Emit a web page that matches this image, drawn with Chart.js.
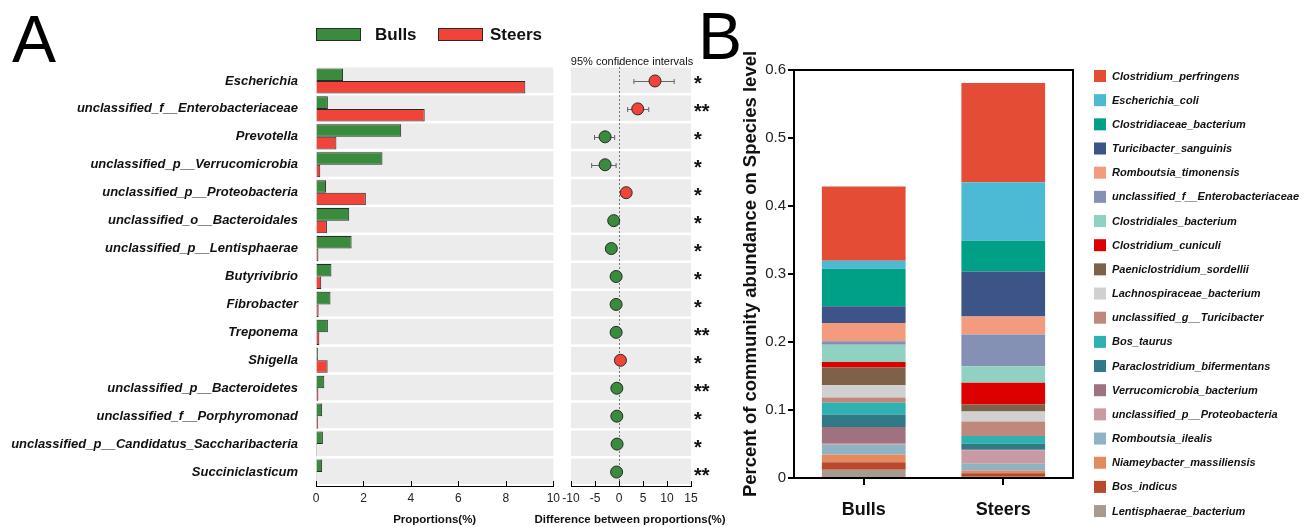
<!DOCTYPE html>
<html>
<head>
<meta charset="utf-8">
<script src="https://cdn.jsdelivr.net/npm/chart.js@4.4.0/dist/chart.umd.min.js"></script>
<style>
  html, body { margin: 0; padding: 0; background: #fff; width: 1306px; height: 527px; overflow: hidden; }
  canvas { position: absolute; top: 0; }
  #chartA { left: 0; }
  #chartD { left: 500px; }
  #chartB { left: 720px; }
  .letter { position: absolute; font-family: "Liberation Sans", Arial, sans-serif; font-size: 66px; line-height: 1; color: #000; }
</style>
</head>
<body>
<div class="letter" style="left:12px;top:6px">A</div>
<div class="letter" style="left:698px;top:3px">B</div>
<canvas id="chartA" width="565" height="527"></canvas>
<canvas id="chartD" width="230" height="527"></canvas>
<canvas id="chartB" width="586" height="527"></canvas>
<script>
const FONT = '"Liberation Sans", Arial, sans-serif';

/* ===== DATA: panel A ===== */
const genera = ['Escherichia', 'unclassified_f__Enterobacteriaceae', 'Prevotella', 'unclassified_p__Verrucomicrobia',
  'unclassified_p__Proteobacteria', 'unclassified_o__Bacteroidales', 'unclassified_p__Lentisphaerae', 'Butyrivibrio',
  'Fibrobacter', 'Treponema', 'Shigella', 'unclassified_p__Bacteroidetes', 'unclassified_f__Porphyromonad',
  'unclassified_p__Candidatus_Saccharibacteria', 'Succiniclasticum'];
const bullsProp  = [1.14, 0.50, 3.59, 2.80, 0.42, 1.40, 1.50, 0.65, 0.61, 0.50, 0.08, 0.35, 0.26, 0.29, 0.26];
const steersProp = [8.82, 4.58, 0.86, 0.18, 2.10, 0.46, 0.10, 0.22, 0.11, 0.14, 0.49, 0.10, 0.08, 0.04, 0.01];
const diffMean = [7.5, 3.9, -2.9, -2.9, 1.5, -1.1, -1.6, -0.6, -0.6, -0.6, 0.3, -0.45, -0.45, -0.4, -0.5];
const ciLow    = [3.1, 1.8, -5.1, -5.7, 1.0, -2.2, -2.7, -1.0, -1.0, -1.0, -0.1, -0.8, -0.8, -0.7, -0.8];
const ciHigh   = [11.5, 6.2, -0.9, -0.6, 2.0, -0.4, -0.6, -0.2, -0.2, -0.2, 0.7, -0.1, -0.1, -0.1, -0.2];
const signif   = ['*', '**', '*', '*', '*', '*', '*', '*', '*', '**', '*', '**', '*', '*', '**'];
const propTicks = [0, 2, 4, 6, 8, 10];
const diffTicks = [-10, -5, 0, 5, 10, 15];

/* ===== DATA: panel B ===== */
const groups = ['Bulls', 'Steers'];
const species = ['Clostridium_perfringens', 'Escherichia_coli', 'Clostridiaceae_bacterium', 'Turicibacter_sanguinis',
  'Romboutsia_timonensis', 'unclassified_f__Enterobacteriaceae', 'Clostridiales_bacterium', 'Clostridium_cuniculi',
  'Paeniclostridium_sordellii', 'Lachnospiraceae_bacterium', 'unclassified_g__Turicibacter', 'Bos_taurus',
  'Paraclostridium_bifermentans', 'Verrucomicrobia_bacterium', 'unclassified_p__Proteobacteria', 'Romboutsia_ilealis',
  'Niameybacter_massiliensis', 'Bos_indicus', 'Lentisphaerae_bacterium'];
const bullsAbund  = [0.109, 0.012, 0.055, 0.0245, 0.027, 0.005, 0.0256, 0.008, 0.026, 0.018, 0.008, 0.017, 0.0184, 0.0246, 0.0015, 0.0145, 0.0115, 0.011, 0.012];
const steersAbund = [0.1456, 0.0861, 0.0452, 0.0664, 0.0262, 0.0468, 0.0243, 0.0319, 0.0103, 0.0147, 0.0216, 0.0112, 0.009, 0.001, 0.0196, 0.010, 0.0038, 0.005, 0.002];
const speciesColors = ['#e54c36', '#4dbad5', '#00a087', '#3c5488', '#f39b7f', '#8491b4', '#91d1c2', '#dc0000',
  '#7e6148', '#d0d0d0', '#c0877c', '#2fb1b1', '#317987', '#a0727f', '#c99aa1', '#8fb3c3', '#e28a62', '#b9482c', '#a99a8e'];

const GREEN = '#3a8b3d';
const RED = '#f0443a';

/* ===== PLUGINS ===== */
const rowBands = {
  id: 'rowBands',
  beforeDatasetsDraw(chart) {
    const y = chart.scales.y, a = chart.chartArea, ctx = chart.ctx;
    const pitch = (a.bottom - a.top) / genera.length;
    ctx.save();
    ctx.fillStyle = '#ececec';
    genera.forEach((g, i) => {
      const c = y.getPixelForValue(i);
      ctx.fillRect(a.left, c - pitch / 2 + 0.5, a.right - a.left, pitch - 2.5);
    });
    ctx.restore();
  }
};

const innerTicks = {
  id: 'innerTicks',
  afterDraw(chart) {
    const xs = chart.scales.x, ctx = chart.ctx;
    ctx.save();
    ctx.strokeStyle = '#000';
    ctx.lineWidth = 1;
    xs.ticks.forEach((t, i) => {
      const x = Math.round(xs.getPixelForTick(i)) + 0.5;
      ctx.beginPath();
      ctx.moveTo(x, xs.top);
      ctx.lineTo(x, xs.top - 5);
      ctx.stroke();
    });
    ctx.restore();
  }
};

// legend boxes for Bulls / Steers (box left, text left)
const legendSlots = [[316, 375], [438, 490]];
const groupLegend = {
  id: 'groupLegend',
  afterDraw(chart) {
    const ctx = chart.ctx;
    ctx.save();
    ctx.font = 'bold 17px ' + FONT;
    ctx.textBaseline = 'middle';
    chart.data.datasets.forEach((ds, i) => {
      const [bx, tx] = legendSlots[i];
      ctx.fillStyle = ds.backgroundColor;
      ctx.strokeStyle = '#2a2a2a';
      ctx.lineWidth = 1;
      ctx.fillRect(bx, 28, 45, 13);
      ctx.strokeRect(bx + 0.5, 28.5, 44, 12);
      ctx.fillStyle = '#111';
      ctx.fillText(ds.label, tx, 35);
    });
    ctx.restore();
  }
};

const ciPlugin = {
  id: 'ciPlugin',
  beforeDatasetsDraw(chart) {
    const xs = chart.scales.x, ys = chart.scales.y, a = chart.chartArea, ctx = chart.ctx;
    ctx.save();
    // dotted zero line
    const x0 = Math.round(xs.getPixelForValue(0)) + 0.5;
    ctx.strokeStyle = '#777';
    ctx.lineWidth = 1;
    ctx.setLineDash([2, 2]);
    ctx.beginPath();
    ctx.moveTo(x0, a.top - 4);
    ctx.lineTo(x0, a.bottom);
    ctx.stroke();
    ctx.setLineDash([]);
    // confidence intervals
    ctx.strokeStyle = '#666';
    genera.forEach((g, i) => {
      const y = Math.round(ys.getPixelForValue(i)) + 0.5;
      const l = xs.getPixelForValue(ciLow[i]), r = xs.getPixelForValue(ciHigh[i]);
      ctx.beginPath();
      ctx.moveTo(l, y); ctx.lineTo(r, y);
      ctx.moveTo(l, y - 2.5); ctx.lineTo(l, y + 2.5);
      ctx.moveTo(r, y - 2.5); ctx.lineTo(r, y + 2.5);
      ctx.stroke();
    });
    ctx.restore();
  },
  afterDraw(chart) {
    const ys = chart.scales.y, a = chart.chartArea, ctx = chart.ctx;
    const cx = (a.left + a.right) / 2;
    ctx.save();
    ctx.fillStyle = '#111';
    ctx.textAlign = 'center';
    ctx.textBaseline = 'middle';
    ctx.font = '11px ' + FONT;
    ctx.fillText('95% confidence intervals', cx + 1, 62);
    ctx.font = 'bold 11.5px ' + FONT;
    ctx.fillText('Difference between proportions(%)', cx - 1, 520);
    ctx.font = 'bold 20px ' + FONT;
    ctx.textAlign = 'left';
    genera.forEach((g, i) => {
      ctx.fillText(signif[i], a.right + 3, ys.getPixelForValue(i) + 4);
    });
    ctx.restore();
  }
};

const frameBox = {
  id: 'frameBox',
  afterDraw(chart) {
    const a = chart.chartArea, ctx = chart.ctx;
    ctx.save();
    ctx.strokeStyle = '#000';
    ctx.lineWidth = 2;
    ctx.strokeRect(a.left, a.top, a.right - a.left, a.bottom - a.top);
    ctx.restore();
  }
};

const speciesLegend = {
  id: 'speciesLegend',
  afterDraw(chart) {
    const ctx = chart.ctx;
    const x0 = chart.chartArea.right + 21;
    ctx.save();
    ctx.font = 'italic bold 11px ' + FONT;
    ctx.textBaseline = 'middle';
    species.forEach((name, i) => {
      const y = 76 + i * 24.17;
      ctx.fillStyle = speciesColors[i];
      ctx.fillRect(x0, y - 6, 12, 12);
      ctx.fillStyle = '#111';
      ctx.fillText(name, x0 + 18, y + 0.5);
    });
    ctx.restore();
  }
};

/* ===== PANEL A: proportions ===== */
new Chart(document.getElementById('chartA'), {
  type: 'bar',
  data: {
    labels: genera,
    datasets: [
      { label: 'Bulls', data: bullsProp, backgroundColor: GREEN, borderColor: '#2a2a2a', borderWidth: 1, borderSkipped: 'start' },
      { label: 'Steers', data: steersProp, backgroundColor: RED, borderColor: '#2a2a2a', borderWidth: 1, borderSkipped: 'start' }
    ]
  },
  options: {
    indexAxis: 'y',
    responsive: false,
    animation: false,
    layout: { padding: { left: 0, right: 9, top: 67, bottom: 0 } },
    datasets: { bar: { categoryPercentage: 0.9, barPercentage: 1.0 } },
    scales: {
      x: {
        min: 0, max: 10,
        afterBuildTicks: s => { s.ticks = propTicks.map(v => ({ value: v })); },
        afterFit: s => { s.height = 41; },
        grid: { display: true, drawOnChartArea: false, drawTicks: false },
        border: { display: true, color: '#000', width: 1 },
        ticks: { padding: 5, color: '#222', font: { family: FONT, size: 12 } },
        title: { display: true, text: 'Proportions(%)', color: '#111', padding: { top: 0, bottom: 0 },
          font: { family: FONT, size: 11.5, weight: 'bold' } }
      },
      y: {
        afterFit: s => { s.width = 316; },
        grid: { display: false, drawTicks: false },
        border: { display: false },
        ticks: { padding: 18, color: '#111', font: { family: FONT, size: 13, weight: 'bold', style: 'italic' } }
      }
    },
    plugins: { legend: { display: false }, tooltip: { enabled: false } }
  },
  plugins: [rowBands, innerTicks, groupLegend]
});

/* ===== PANEL A: difference with CI ===== */
new Chart(document.getElementById('chartD'), {
  type: 'scatter',
  data: {
    labels: genera,
    datasets: [{
      data: genera.map((g, i) => ({ x: diffMean[i], y: g })),
      pointRadius: 6,
      pointBackgroundColor: diffMean.map(v => v > 0 ? RED : GREEN),
      pointBorderColor: '#2a2a2a',
      pointBorderWidth: 1
    }]
  },
  options: {
    responsive: false,
    animation: false,
    layout: { padding: { left: 71, right: 39, top: 67, bottom: 0 } },
    scales: {
      x: {
        type: 'linear', min: -10, max: 15,
        afterBuildTicks: s => { s.ticks = diffTicks.map(v => ({ value: v })); },
        afterFit: s => { s.height = 41; },
        grid: { display: true, drawOnChartArea: false, drawTicks: false },
        border: { display: true, color: '#000', width: 1 },
        ticks: { padding: 5, color: '#222', font: { family: FONT, size: 12 } }
      },
      y: { type: 'category', labels: genera, offset: true, display: false }
    },
    plugins: { legend: { display: false }, tooltip: { enabled: false } }
  },
  plugins: [rowBands, ciPlugin, innerTicks]
});

/* ===== PANEL B: stacked species abundance ===== */
new Chart(document.getElementById('chartB'), {
  type: 'bar',
  data: {
    labels: groups,
    datasets: species.map((name, i) => ({
      label: name,
      data: [bullsAbund[i], steersAbund[i]],
      backgroundColor: speciesColors[i],
      borderWidth: 0
    })).reverse()
  },
  options: {
    responsive: false,
    animation: false,
    layout: { padding: { left: 20, right: 233, top: 70, bottom: 0 } },
    datasets: { bar: { categoryPercentage: 1.0, barPercentage: 0.6 } },
    scales: {
      x: {
        stacked: true,
        afterFit: s => { s.height = 49; },
        grid: { display: true, drawOnChartArea: false, offset: false, tickLength: 7, color: '#000', lineWidth: 2 },
        border: { display: true, color: '#000', width: 2 },
        ticks: { padding: 14, color: '#111', font: { family: FONT, size: 18, weight: 'bold' } }
      },
      y: {
        stacked: true,
        min: 0, max: 0.6,
        ticks: { stepSize: 0.1, padding: 2, color: '#222', font: { family: FONT, size: 15 } },
        afterFit: s => { s.width = 54; },
        grid: { display: true, drawOnChartArea: false, tickLength: 6, color: '#000', lineWidth: 2 },
        border: { display: true, color: '#000', width: 2 },
        title: { display: true, text: 'Percent of community abundance on Species level', color: '#111',
          padding: { top: 0, bottom: 0 }, font: { family: FONT, size: 18.5, weight: 'bold' } }
      }
    },
    plugins: { legend: { display: false }, tooltip: { enabled: false } }
  },
  plugins: [frameBox, speciesLegend]
});
</script>
</body>
</html>
